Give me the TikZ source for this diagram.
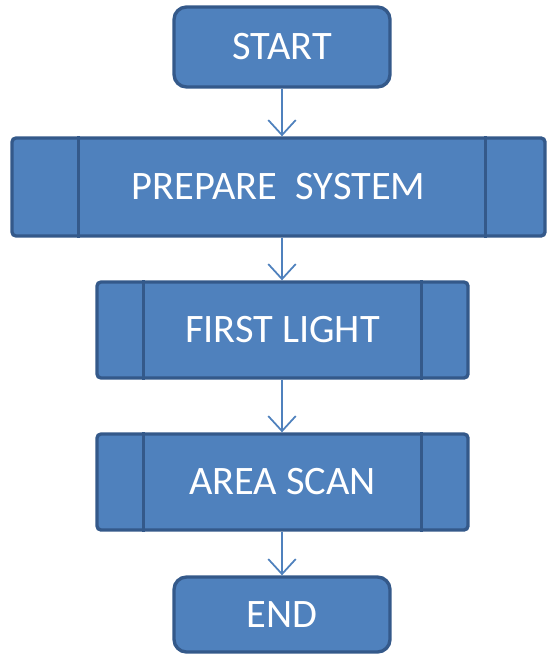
\documentclass[tikz,border=0pt]{standalone}
\usepackage{fontspec}
\setmainfont{Carlito}
\usetikzlibrary{arrows.meta}
\definecolor{boxblue}{HTML}{4F81BD}
\definecolor{boxline}{HTML}{34598A}
\begin{document}
\begin{tikzpicture}[term/.style={fill=boxblue,draw=boxline,line width=1.9pt,rectangle,rounded corners=0.25cm,text=white,font=\fontsize{23}{27}\selectfont,minimum width=4.32cm},
proc/.style={fill=boxblue,draw=boxline,line width=1.9pt,rectangle,rounded corners=0.08cm,text=white,font=\fontsize{23}{27}\selectfont},
flow/.style={draw=boxblue,line width=1pt,-{Straight Barb[length=0.3cm,width=0.55cm]}}]
\useasboundingbox (0,0) rectangle (10.94,-13.08);

\node[term,minimum height=1.6cm] (start) at (5.64,-0.94) {START};
\node[proc,minimum width=10.66cm,minimum height=1.96cm] (prep) at (5.57,-3.74) {PREPARE\ \ SYSTEM};
\node[proc,minimum width=7.42cm,minimum height=1.92cm] (first) at (5.65,-6.6) {FIRST LIGHT};
\node[proc,minimum width=7.42cm,minimum height=1.92cm] (area) at (5.65,-9.64) {AREA SCAN};
\node[term,minimum height=1.5cm] (stop) at (5.64,-12.29) {END};

\draw[boxline,line width=1.9pt] ([xshift=1.36cm]prep.north west) -- ([xshift=1.36cm]prep.south west); %left bar
\draw[boxline,line width=1.9pt] ([xshift=-1.22cm]prep.north east) -- ([xshift=-1.22cm]prep.south east); %right bar
\draw[boxline,line width=1.9pt] ([xshift=0.96cm]first.north west) -- ([xshift=0.96cm]first.south west);
\draw[boxline,line width=1.9pt] ([xshift=-0.96cm]first.north east) -- ([xshift=-0.96cm]first.south east);
\draw[boxline,line width=1.9pt] ([xshift=0.96cm]area.north west) -- ([xshift=0.96cm]area.south west);
\draw[boxline,line width=1.9pt] ([xshift=-0.96cm]area.north east) -- ([xshift=-0.96cm]area.south east);

\draw[flow] (start.south) -- (start.south |- prep.north);
\draw[flow] (start.south |- prep.south) -- (start.south |- first.north);
\draw[flow] (start.south |- first.south) -- (start.south |- area.north);
\draw[flow] (start.south |- area.south) -- (stop.north);

\end{tikzpicture}
\end{document}
